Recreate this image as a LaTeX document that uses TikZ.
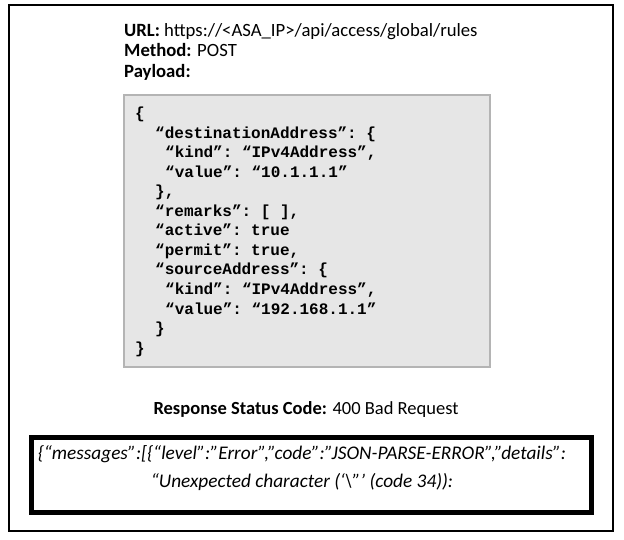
\documentclass[tikz,border=0pt]{standalone}
\usepackage{fontspec}
\setmainfont{Carlito}
\setmonofont{Liberation Mono}
\begin{document}
\begin{tikzpicture}[x=1pt,y=-1pt,
  txt/.style={anchor=base west, inner sep=0pt, font=\fontsize{18.7}{22}\selectfont},
  ctxt/.style={anchor=base, inner sep=0pt, font=\fontsize{18.5}{22}\selectfont},
  json/.style={anchor=base west, inner sep=0pt, font=\fontsize{16}{19}\selectfont\ttfamily\bfseries},
  errtxt/.style={anchor=base, inner sep=0pt, font=\fontsize{19.3}{22}\selectfont\itshape}]
\useasboundingbox (0,0) rectangle (624,540);
\fill[white] (0,0) rectangle (624,540);
% outer frame
\draw[line width=2pt, black] (9,5) rectangle (613,531);
% header texts
\node[txt] (url) at (124,37) {\textbf{URL:} https://<ASA\_IP>/api/access/global/rules};
\node[txt] (method) at (124,57) {\textbf{Method:} POST};
\node[txt] (payload) at (124,78) {\textbf{Payload:}};
% payload box
\draw[line width=2pt, draw={rgb,255:red,180;green,180;blue,180}, fill={rgb,255:red,230;green,230;blue,230}] (124,95) rectangle (490,367);
\node[json] (j1) at (135,119) {\{};
\node[json] (j2) at (155,138.5) {“destinationAddress”: \{};
\node[json] (j3) at (165,158) {“kind”: “IPv4Address”,};
\node[json] (j4) at (165,177.5) {“value”: “10.1.1.1”};
\node[json] (j5) at (155,197) {\},};
\node[json] (j6) at (155,216.5) {“remarks”: [ ],};
\node[json] (j7) at (155,236) {“active”: true};
\node[json] (j8) at (155,255.5) {“permit”: true,};
\node[json] (j9) at (155,275) {“sourceAddress”: \{};
\node[json] (j10) at (165,294.5) {“kind”: “IPv4Address”,};
\node[json] (j11) at (165,314) {“value”: “192.168.1.1”};
\node[json] (j12) at (155,333.5) {\}};
\node[json] (j13) at (135,353) {\}};
% status
\node[ctxt] (status) at (306,414) {\textbf{Response Status Code:} 400 Bad Request};
% error box
\draw[line width=5pt, black] (31,437) rectangle (591,512);
\node[errtxt] (e1) at (302,459) {\{“messages”:[\{“level”:”Error”,”code”:”JSON-PARSE-ERROR”,”details”:};
\node[errtxt] (e2) at (302,487) {“Unexpected character (‘\textbackslash”’ (code 34)):};
\end{tikzpicture}
\end{document}
